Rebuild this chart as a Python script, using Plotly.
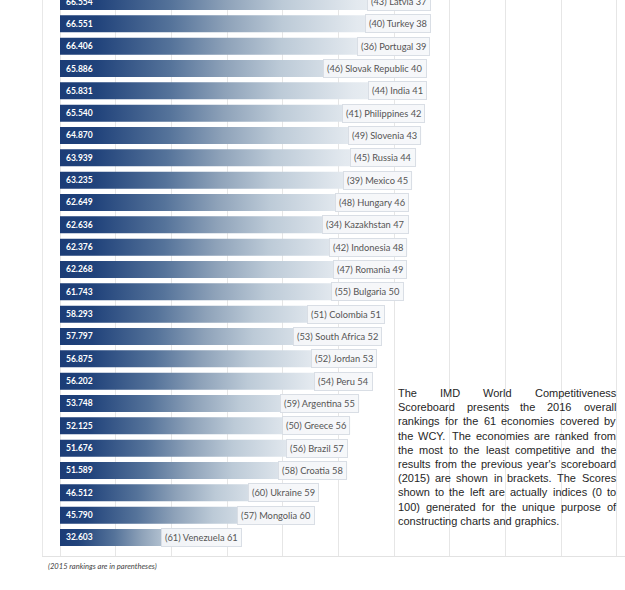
import plotly.graph_objects as go

# ---------------- data ----------------
ranks = list(range(37, 62))
countries = ["Latvia", "Turkey", "Portugal", "Slovak Republic", "India", "Philippines",
             "Slovenia", "Russia", "Mexico", "Hungary", "Kazakhstan", "Indonesia",
             "Romania", "Bulgaria", "Colombia", "South Africa", "Jordan", "Peru",
             "Argentina", "Greece", "Brazil", "Croatia", "Ukraine", "Mongolia", "Venezuela"]
prev_ranks = [43, 40, 36, 46, 44, 41, 49, 45, 39, 48, 34, 42, 47, 55, 51, 53, 52, 54,
              59, 50, 56, 58, 60, 57, 61]
scores = [66.554, 66.551, 66.406, 65.886, 65.831, 65.540, 64.870, 63.939, 63.235, 62.649,
          62.636, 62.376, 62.268, 61.743, 58.293, 57.797, 56.875, 56.202, 53.748, 52.125,
          51.676, 51.589, 46.512, 45.790, 32.603]
grid_ticks = [0, 10, 20, 30, 40, 50, 60, 70, 80, 90, 100]

desc_lines = [
    "The IMD World Competitiveness",
    "Scoreboard presents the 2016 overall",
    "rankings for the 61 economies covered by",
    "the WCY. The economies are ranked from",
    "the most to the least competitive and the",
    "results from the previous year's scoreboard",
    "(2015) are shown in brackets. The Scores",
    "shown to the left are actually indices (0 to",
    "100) generated for the unique purpose of",
    "constructing charts and graphics.",
]
footnote = "(2015 rankings are in parentheses)"

# ---------------- layout geometry ----------------
W, H = 625, 590
L_M, B_M = 43, 34
PW, PH = W - L_M, H - B_M


def px2paper_x(px):
    return (px - L_M) / PW


def py2paper_y(py):
    return 1 - py / PH


X_RANGE = [-3.052, 101.44]
Y_RANGE = [61.829, 36.933]
HALF = 0.38

bar_scale = [[0.0, "#1b3c76"], [0.1, "#21437b"], [0.3, "#55739a"], [0.45, "#8ea2b9"],
             [0.6, "#bccad7"], [0.8, "#e3e9ef"], [1.0, "#f6f8fa"]]

fig = go.Figure()

for r, v in zip(ranks, scores):
    fig.add_trace(go.Scatter(
        x=[0, v, v, 0, 0],
        y=[r - HALF, r - HALF, r + HALF, r + HALF, r - HALF],
        mode="lines", line=dict(width=0), fill="toself",
        fillgradient=dict(type="horizontal", colorscale=bar_scale, start=0, stop=v),
        hoverinfo="skip", showlegend=False,
    ))

annotations = []
for r, c, p, v in zip(ranks, countries, prev_ranks, scores):
    annotations.append(dict(
        x=0, y=r, xref="x", yref="y", xanchor="left", yanchor="middle", xshift=6,
        text=f"{v:.3f}", showarrow=False, borderpad=0, borderwidth=0,
        font=dict(family="Lato", size=8.5, color="white", weight="bold"),
    ))
    annotations.append(dict(
        x=v, y=r, xref="x", yref="y", xanchor="right", yanchor="middle",
        text=f"({p}) {c} {r}", showarrow=False,
        bgcolor="rgba(246,247,249,0.9)", bordercolor="#d9dee5", borderwidth=1, borderpad=3,
        font=dict(family="Lato", size=9.3, color="#555555"),
    ))

# --- justified description text (Arial metrics -> Liberation Sans) ---
AW = {' ': 278, 'a': 556, 'b': 556, 'c': 500, 'd': 556, 'e': 556, 'f': 278, 'g': 556,
      'h': 556, 'i': 222, 'j': 222, 'k': 500, 'l': 222, 'm': 833, 'n': 556, 'o': 556,
      'p': 556, 'q': 556, 'r': 333, 's': 500, 't': 278, 'u': 556, 'v': 500, 'w': 722,
      'x': 500, 'y': 500, 'z': 500, '(': 333, ')': 333, '.': 278, ',': 278, "'": 191,
      'T': 611, 'I': 278, 'M': 833, 'D': 722, 'W': 944, 'C': 722, 'S': 667, 'Y': 667}
for d in "0123456789":
    AW[d] = 556
FS = 11.0


def tw(s):
    return sum(AW.get(ch, 556) for ch in s) * FS / 1000.0


TX0, TX1 = 398, 616
TY0, TLS = 393, 14.2
for i, line in enumerate(desc_lines):
    ypos = py2paper_y(TY0 + i * TLS)
    words = line.split(" ")
    if i == len(desc_lines) - 1:
        annotations.append(dict(x=px2paper_x(TX0), y=ypos, xref="paper", yref="paper",
                                xanchor="left", yanchor="middle", text=line, showarrow=False,
                                borderpad=0, borderwidth=0,
                                font=dict(family="Liberation Sans", size=FS, color="#262626")))
        continue
    widths = [tw(w) for w in words]
    gap = (TX1 - TX0 - sum(widths)) / (len(words) - 1)
    xcur = TX0
    for w, wd in zip(words, widths):
        annotations.append(dict(x=px2paper_x(xcur), y=ypos, xref="paper", yref="paper",
                                xanchor="left", yanchor="middle", text=w, showarrow=False,
                                borderpad=0, borderwidth=0,
                                font=dict(family="Liberation Sans", size=FS, color="#262626")))
        xcur += wd + gap

annotations.append(dict(x=px2paper_x(48), y=py2paper_y(566), xref="paper", yref="paper",
                        xanchor="left", yanchor="middle", text=footnote, showarrow=False,
                        borderpad=0, borderwidth=0,
                        font=dict(family="Lato", size=7.6, color="#444444", style="italic")))

shapes = [dict(type="rect", xref="paper", yref="paper", layer="between",
               x0=px2paper_x(393), x1=px2paper_x(622), y0=py2paper_y(541), y1=py2paper_y(386),
               fillcolor="white", line=dict(width=0))]

fig.update_layout(
    width=W, height=H,
    margin=dict(l=L_M, r=0, t=0, b=B_M),
    paper_bgcolor="white", plot_bgcolor="white",
    xaxis=dict(range=X_RANGE, tickvals=grid_ticks, showticklabels=False, ticks="",
               showgrid=True, gridcolor="#e6e6e6", gridwidth=1, zeroline=False,
               showline=True, linecolor="#e2e2e2", linewidth=1, fixedrange=True),
    yaxis=dict(range=Y_RANGE, showticklabels=False, ticks="", showgrid=False,
               zeroline=False, showline=True, linecolor="#e8e8e8", linewidth=1,
               fixedrange=True),
    annotations=annotations, shapes=shapes, showlegend=False,
)

fig.write_html("out.html", config={"displayModeBar": False},
               post_script="document.body.style.margin='0';document.body.style.overflow='hidden';")
